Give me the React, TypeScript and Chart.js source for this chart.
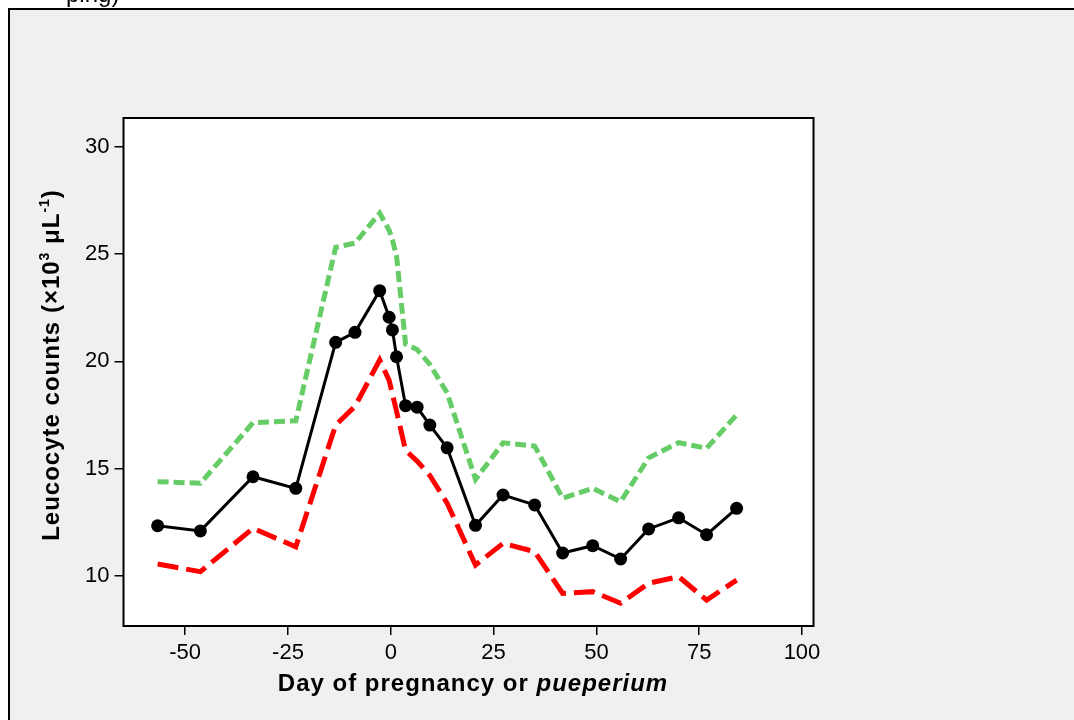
import React, { useEffect, useRef } from "react";
import { Chart, registerables } from "chart.js";

Chart.register(...registerables);

const DAYS = [-56.7, -46.3, -33.5, -23.1, -13.4, -8.7, -2.7, -0.4, 0.4, 1.4, 3.6, 6.4, 9.5, 13.7, 20.6, 27.3, 35.0, 41.8, 49.1, 55.9, 62.7, 70.0, 76.8, 84.1];
const MEAN = [12.34, 12.1, 14.62, 14.08, 20.88, 21.35, 23.29, 22.05, 21.46, 20.21, 17.93, 17.86, 17.03, 15.97, 12.36, 13.77, 13.31, 11.07, 11.41, 10.79, 12.19, 12.71, 11.92, 13.15];
const UPPER = [14.39, 14.32, 17.14, 17.23, 25.31, 25.5, 26.9, 26.1, 25.65, 24.9, 20.8, 20.55, 19.85, 18.53, 14.5, 16.2, 16.05, 13.62, 14.08, 13.46, 15.5, 16.21, 15.95, 17.5];
const LOWER = [10.56, 10.2, 12.22, 11.36, 17.03, 17.9, 20.06, 19.11, 18.47, 17.67, 15.85, 15.35, 14.68, 13.39, 10.51, 11.52, 11.13, 9.19, 9.27, 8.73, 9.66, 9.97, 8.88, 9.81];
const X_TICKS = [-50, -25, 0, 25, 50, 75, 100];
const Y_TICKS = [10, 15, 20, 25, 30];
const X_TITLE_MAIN = "Day of pregnancy or ";
const X_TITLE_ITALIC = "pueperium";
const Y_TITLE_PARTS: [string, boolean][] = [
  ["Leucocyte counts (×10", false],
  ["3", true],
  [" μL", false],
  ["-1", true],
  [")", false],
];
const TOP_FRAGMENT = "ping)";

const FONT = "'Liberation Sans', Arial, sans-serif";

const decor = {
  id: "decor",
  beforeDraw(chart: any) {
    const { ctx, chartArea: a } = chart;
    ctx.save();
    ctx.fillStyle = "#ffffff";
    ctx.fillRect(a.left, a.top, a.right - a.left, a.bottom - a.top);
    ctx.restore();
  },
  afterDraw(chart: any) {
    const { ctx, chartArea: a } = chart;
    ctx.save();
    ctx.strokeStyle = "#000";
    ctx.lineWidth = 2;
    ctx.strokeRect(a.left, a.top, a.right - a.left, a.bottom - a.top);

    ctx.fillStyle = "#000";
    ctx.textBaseline = "alphabetic";
    ctx.textAlign = "left";
    try {
      (ctx as any).letterSpacing = "1px";
    } catch (e) {}
    const f1 = `bold 24px ${FONT}`;
    const f2 = `italic bold 24px ${FONT}`;
    ctx.font = f1;
    const w1 = ctx.measureText(X_TITLE_MAIN).width;
    ctx.font = f2;
    const w2 = ctx.measureText(X_TITLE_ITALIC).width;
    const cx = 473;
    const sx = cx - (w1 + w2) / 2;
    ctx.font = f1;
    ctx.fillText(X_TITLE_MAIN, sx, 691);
    ctx.font = f2;
    ctx.fillText(X_TITLE_ITALIC, sx + w1, 691);

    ctx.translate(59, 365);
    ctx.rotate(-Math.PI / 2);
    const nf = `bold 24px ${FONT}`;
    const sf = `bold 14px ${FONT}`;
    let total = 0;
    for (const [t, sup] of Y_TITLE_PARTS) {
      ctx.font = sup ? sf : nf;
      total += ctx.measureText(t).width;
    }
    let px = -total / 2;
    for (const [t, sup] of Y_TITLE_PARTS) {
      ctx.font = sup ? sf : nf;
      ctx.fillText(t, px, sup ? -10 : 0);
      px += ctx.measureText(t).width;
    }
    ctx.restore();
  },
};

export default function App() {
  const ref = useRef<HTMLCanvasElement>(null);
  useEffect(() => {
    if (!ref.current) return;
    const mk = (ys: number[]) => DAYS.map((d, i) => ({ x: d, y: ys[i] }));
    const chart = new Chart(ref.current, {
      type: "line",
      data: {
        datasets: [
          {
            label: "upper",
            data: mk(UPPER),
            borderColor: "#66cc66",
            borderWidth: 5,
            borderDash: [11, 5],
            pointRadius: 0,
            fill: false,
            tension: 0,
          },
          {
            label: "lower",
            data: mk(LOWER),
            borderColor: "#ff0000",
            borderWidth: 5,
            borderDash: [21, 8],
            pointRadius: 0,
            fill: false,
            tension: 0,
          },
          {
            label: "mean",
            data: mk(MEAN),
            borderColor: "#000000",
            backgroundColor: "#000000",
            borderWidth: 3,
            pointRadius: 6.5,
            pointBackgroundColor: "#000000",
            pointBorderWidth: 0,
            fill: false,
            tension: 0,
          },
        ],
      },
      options: {
        responsive: false,
        animation: false,
        events: [],
        layout: { padding: { left: 0, top: 118, right: 260.5, bottom: 0 } },
        plugins: { legend: { display: false }, tooltip: { enabled: false }, title: { display: false } },
        scales: {
          x: {
            type: "linear",
            min: -65,
            max: 102.8,
            afterBuildTicks: (s: any) => {
              s.ticks = X_TICKS.map((v) => ({ value: v }));
            },
            afterFit: (s: any) => {
              s.height = 94;
            },
            grid: { display: true, drawOnChartArea: false, drawTicks: true, tickLength: 9, color: "#000", lineWidth: 1.5 },
            border: { display: false },
            ticks: { color: "#000", font: { family: FONT, size: 22 }, padding: 5, maxRotation: 0, autoSkip: false },
          },
          y: {
            type: "linear",
            min: 7.67,
            max: 31.33,
            afterBuildTicks: (s: any) => {
              s.ticks = Y_TICKS.map((v) => ({ value: v }));
            },
            afterFit: (s: any) => {
              s.width = 123.5;
            },
            grid: { display: true, drawOnChartArea: false, drawTicks: true, tickLength: 9, color: "#000", lineWidth: 1.5 },
            border: { display: false },
            ticks: { color: "#000", font: { family: FONT, size: 22 }, padding: 5, autoSkip: false },
          },
        },
      },
      plugins: [decor],
    });
    return () => chart.destroy();
  }, []);

  return (
    <>
      <div
        style={{
          position: "fixed",
          left: 8,
          top: 8,
          right: 0,
          bottom: 0,
          background: "#f0f0f0",
          borderLeft: "2px solid #000",
          borderTop: "2px solid #000",
        }}
      />
      <div
        style={{
          position: "fixed",
          left: 66,
          top: -20,
          font: `24px ${FONT}`,
          color: "#000",
          whiteSpace: "nowrap",
        }}
      >
        {TOP_FRAGMENT}
      </div>
      <canvas
        ref={ref}
        width={1074}
        height={720}
        style={{ position: "fixed", left: 0, top: 0, width: 1074, height: 720 }}
      />
    </>
  );
}
